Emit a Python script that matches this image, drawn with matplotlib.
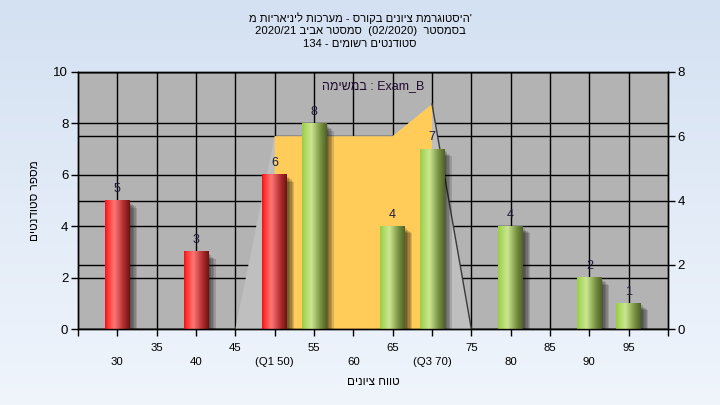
import re
import numpy as np
import matplotlib
matplotlib.use("Agg")
import matplotlib.pyplot as plt
from matplotlib.patches import Rectangle, Polygon
from matplotlib.lines import Line2D
from matplotlib.transforms import blended_transform_factory

plt.rcParams['font.family'] = ['Liberation Sans', 'DejaVu Sans']

# ---------------- data ----------------
title_lines = ["'היסטוגרמת ציונים בקורס - מערכות ליניאריות מ",
               "בסמסטר  (02/2020)  סמסטר אביב 2020/21",
               "סטודנטים רשומים - 134"]
legend_text = "Exam_B : " + "במשימה"
xlabel = "טווח ציונים"
ylabel = "מספר סטודנטים"

bar_x = [30, 40, 50, 55, 65, 70, 80, 90, 95]
bar_counts = [5, 3, 6, 8, 4, 7, 4, 2, 1]
pass_grade = 55

dist_x = [45, 50, 65, 70, 75]
dist_y = [0, 6, 6, 7, 0]
q1, q3 = 50, 70

tick_values = [30, 35, 40, 45, 50, 55, 60, 65, 70, 75, 80, 85, 90, 95]
tick_labels = ["30", "35", "40", "45", "(Q1 50)", "55", "60", "65", "(Q3 70)", "75", "80", "85", "90", "95"]


def rtl(s):
    """Convert a logical-order Hebrew string to visual order."""
    parts = re.findall(r'[A-Za-z0-9_/.]+|[^A-Za-z0-9_/.]', s)
    parts.reverse()
    mirror = {'(': ')', ')': '('}
    return ''.join(mirror.get(p, p) for p in parts)


def gradient(stops):
    pos = [p for p, _ in stops]
    cols = np.array([c for _, c in stops], dtype=float) / 255.0
    t = np.linspace(0, 1, 128)
    img = np.stack([np.interp(t, pos, cols[:, k]) for k in range(3)], axis=-1)
    return img[np.newaxis, :, :]


red_grad = gradient([(0.0, (245, 15, 15)), (0.12, (255, 55, 55)), (0.38, (255, 118, 118)),
                     (0.75, (175, 45, 45)), (1.0, (110, 18, 18))])
green_grad = gradient([(0.0, (150, 205, 65)), (0.12, (170, 215, 95)), (0.38, (205, 230, 145)),
                       (0.75, (120, 145, 65)), (1.0, (78, 98, 38))])

# ---------------- figure ----------------
fig = plt.figure(figsize=(7.2, 4.05), dpi=100)
bg = fig.add_axes([0, 0, 1, 1], zorder=-10)
bgcol = np.linspace(0, 1, 200)[:, None]
top_c = np.array([212, 225, 242]) / 255
bot_c = np.array([240, 245, 252]) / 255
bg_img = top_c[None, None, :] * (1 - bgcol[:, :, None]) + bot_c[None, None, :] * bgcol[:, :, None]
bg.imshow(np.repeat(bg_img, 2, axis=1), aspect='auto', extent=[0, 1, 0, 1])
bg.set_axis_off()

ax = fig.add_axes([78 / 720, 1 - 329 / 405, 590 / 720, 257 / 405])
ax2 = ax.twinx()
ax.set_facecolor('#b3b3b3')
ax.set_xlim(25, 100)
ax.set_ylim(0, 10)
ax2.set_ylim(0, 8)

# grid lines (both axes)
for v in tick_values:
    ax.axvline(v, color='black', lw=1.0, zorder=1)
for v in range(0, 11, 2):
    ax.axhline(v, color='black', lw=1.0, zorder=1)
bt = blended_transform_factory(ax.transAxes, ax2.transData)
for v in range(0, 9, 2):
    ax.add_line(Line2D([0, 1], [v, v], transform=bt, color='black', lw=1.0, zorder=1))

# distribution polygon (right axis units)
poly_pts = list(zip(dist_x, dist_y))
ax.add_patch(Polygon(poly_pts, closed=True, transform=ax2.transData,
                     facecolor='#bfbfbf', edgecolor='none', zorder=2))
yel = [(q1, 0)] + [(x, y) for x, y in poly_pts if q1 <= x <= q3] + [(q3, 0)]
ax.add_patch(Polygon(yel, closed=True, transform=ax2.transData,
                     facecolor='#ffcc5a', edgecolor='none', zorder=2.1))
ax.add_line(Line2D(dist_x[-2:], dist_y[-2:], transform=ax2.transData,
                   color='#3a3a3a', lw=1.0, zorder=2.2))

# bars
w = 3.1
for x, c in zip(bar_x, bar_counts):
    # shadow
    for i in range(5):
        ax.add_patch(Rectangle((x - w / 2 + 0.25 + 0.17 * i, -0.3), w, c + 0.3 - 0.08 - 0.05 * i,
                               facecolor='black', alpha=0.14, edgecolor='none', zorder=2.5))
    img = red_grad if x < pass_grade else green_grad
    ax.imshow(img, extent=[x - w / 2, x + w / 2, 0, c], aspect='auto', zorder=3,
              interpolation='bilinear')
    ax.text(x, c + 0.22, str(c), ha='center', va='bottom', fontsize=9, color='#1c1c38', zorder=4)

ax.set_xlim(25, 100)
ax.set_ylim(0, 10)

# ticks
ax.set_xticks(list(range(25, 101, 5)))
xl = []
for v in range(25, 101, 5):
    if v in tick_values:
        lab = tick_labels[tick_values.index(v)]
        xl.append(lab if v % 10 == 5 else "\n" + lab)
    else:
        xl.append("")
ax.set_xticklabels(xl, fontsize=8.2, linespacing=1.55)
ax.set_yticks(range(0, 11, 2))
ax.set_yticklabels([str(v) for v in range(0, 11, 2)], fontsize=9.5)
ax2.set_yticks(range(0, 9, 2))
ax2.set_yticklabels([str(v) for v in range(0, 9, 2)], fontsize=9.5)
ax.tick_params(axis='x', length=5, width=1, pad=5, colors='black')
ax.tick_params(axis='y', length=5, width=1, pad=2, colors='black')
ax2.tick_params(axis='y', length=5, width=1, pad=2, colors='black')
for a in (ax, ax2):
    for s in a.spines.values():
        s.set_color('black')
        s.set_linewidth(1.0)

ax.set_xlabel(rtl(xlabel), fontsize=8.5, labelpad=6.5)
ax.set_ylabel(rtl(ylabel), fontsize=8.5, labelpad=9)

ax.text(0.5, 0.945, rtl(legend_text), transform=ax.transAxes, ha='center', va='center',
        fontsize=9, color='#200a30', zorder=5)

# title
for i, line in enumerate(title_lines):
    fig.text(0.5, 1 - (18 + 13 * i) / 405, rtl(line), ha='center', va='center',
             fontsize=8.1, color='black')

fig.savefig('out.png', dpi=100)
